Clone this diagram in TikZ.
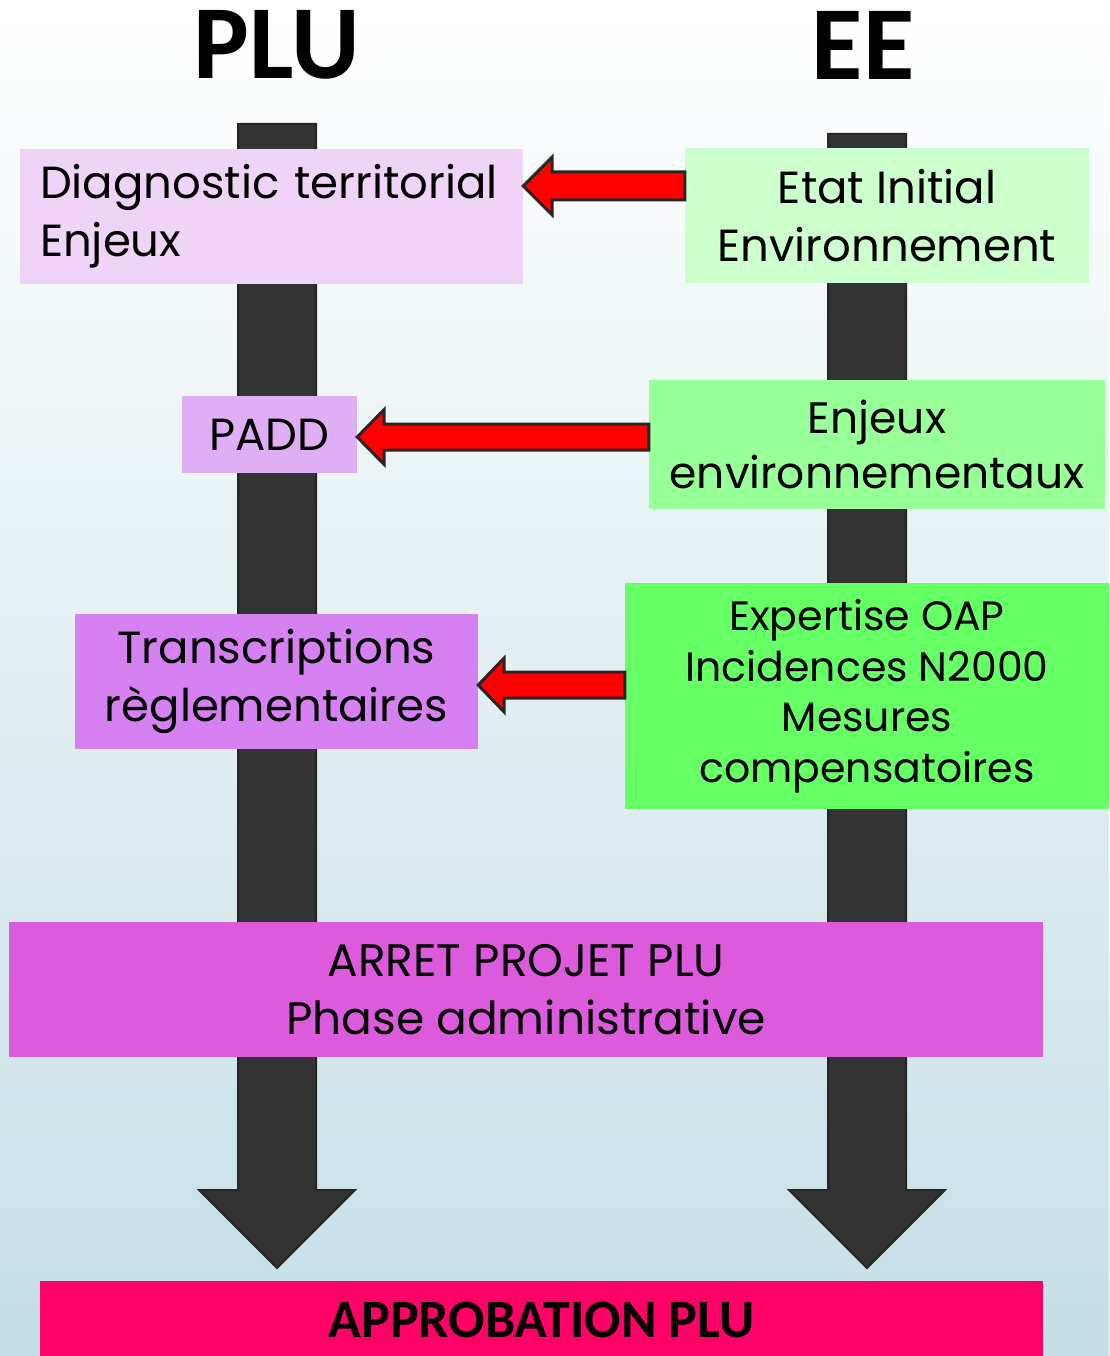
\documentclass[tikz,border=0pt]{standalone}
\usepackage{fontspec}
\setmainfont{Poppins}
\newfontfamily\titlefont{Carlito}
\usetikzlibrary{calc}
\definecolor{bgblue}{RGB}{197,223,230}
\definecolor{darkgrey}{RGB}{51,51,51}
\definecolor{edgegrey}{RGB}{38,38,38}
\definecolor{diagcol}{RGB}{240,212,248}
\definecolor{etatcol}{RGB}{204,255,204}
\definecolor{paddcol}{RGB}{224,174,244}
\definecolor{enjcol}{RGB}{153,255,153}
\definecolor{transcol}{RGB}{213,129,242}
\definecolor{expcol}{RGB}{102,255,102}
\definecolor{arretcol}{RGB}{220,90,220}
\definecolor{approbcol}{RGB}{255,0,102}
\newcommand\darkarrow[2]{%
  \draw[darkarr] ($(#1)+(-39,0)$) -- ($(#1)+(39,0)$) -- ($(#2)+(39,-78)$) -- ($(#2)+(78,-78)$) -- (#2) -- ($(#2)+(-78,-78)$) -- ($(#2)+(-39,-78)$) -- cycle;}
\newcommand\fatarrow[5]{%
  \draw[redarr] (#1) -- ($(#1)+(#3,-#4)$) -- ($(#1)+(#3,-#5)$) -- ($(#2)+(0,-#5)$) -- ($(#2)+(0,#5)$) -- ($(#1)+(#3,#5)$) -- ($(#1)+(#3,#4)$) -- cycle;}
\begin{document}
\begin{tikzpicture}[x=1pt,y=-1pt,
  box/.style={inner sep=0pt, align=center, font=\fontsize{45}{58}\selectfont},
  darkarr/.style={fill=darkgrey, draw=edgegrey, line width=2pt, line join=miter},
  redarr/.style={fill=red, draw=edgegrey, line width=3pt, line join=miter},
  titletxt/.style={font=\titlefont\bfseries\fontsize{105}{110}\selectfont}]
\useasboundingbox (0,0) rectangle (1109,1356);
\shade[top color=white, bottom color=bgblue] (0,0) rectangle (1109,1356);
% titles
\node[titletxt] (plu) at (277,45) {PLU};
\node[titletxt] (ee) at (863,45) {EE};
% timelines
\coordinate (pluTop) at (277,124);
\coordinate (pluBot) at (277,1268);
\coordinate (eeTop) at (867,134);
\coordinate (eeBot) at (867,1268);
\darkarrow{pluTop}{pluBot}
\darkarrow{eeTop}{eeBot}
% boxes
\node[box, fill=diagcol, minimum height=135pt, text width=463pt, inner xsep=20pt, align=left] (diag) at (271.5,216.5) {Diagnostic territorial\\Enjeux};
\node[box, fill=etatcol, minimum width=404pt, minimum height=135pt] (etat) at (887,215.5) {Etat Initial\\Environnement};
\node[box, fill=paddcol, minimum width=175pt, minimum height=77pt] (padd) at (269.5,434.5) {PADD};
\node[box, fill=enjcol, minimum width=456pt, minimum height=129pt, font=\fontsize{44}{55}\selectfont] (enj) at (877,444.5) {Enjeux\\environnementaux};
\node[box, fill=transcol, minimum width=403pt, minimum height=135pt] (trans) at (276.5,681.5) {Transcriptions\\règlementaires};
\node[box, fill=expcol, minimum width=484pt, minimum height=226pt, font=\fontsize{41}{50.5}\selectfont] (exp) at (867,696) {Expertise OAP\\Incidences N2000\\Mesures\\compensatoires};
\node[box, fill=arretcol, minimum width=1034pt, minimum height=135pt, font=\fontsize{45.5}{58}\selectfont] (arret) at (526,989.5) {ARRET PROJET PLU\\Phase administrative};
\node[box, fill=approbcol, minimum width=1003pt, minimum height=77pt, font=\titlefont\bfseries\fontsize{54}{60}\selectfont] (approb) at (541.5,1319.5) {APPROBATION PLU};
% red arrows
\coordinate (a1t) at (diag.east |- 0,186);
\coordinate (a1s) at (etat.west |- 0,186);
\coordinate (a2t) at (padd.east |- 0,437);
\coordinate (a2s) at (enj.west |- 0,437);
\coordinate (a3t) at (trans.east |- 0,685);
\coordinate (a3s) at (exp.west |- 0,685);
\fatarrow{a1t}{a1s}{29}{29}{14}
\fatarrow{a2t}{a2s}{27}{27.5}{13}
\fatarrow{a3t}{a3s}{26}{27}{13}
\end{tikzpicture}
\end{document}
